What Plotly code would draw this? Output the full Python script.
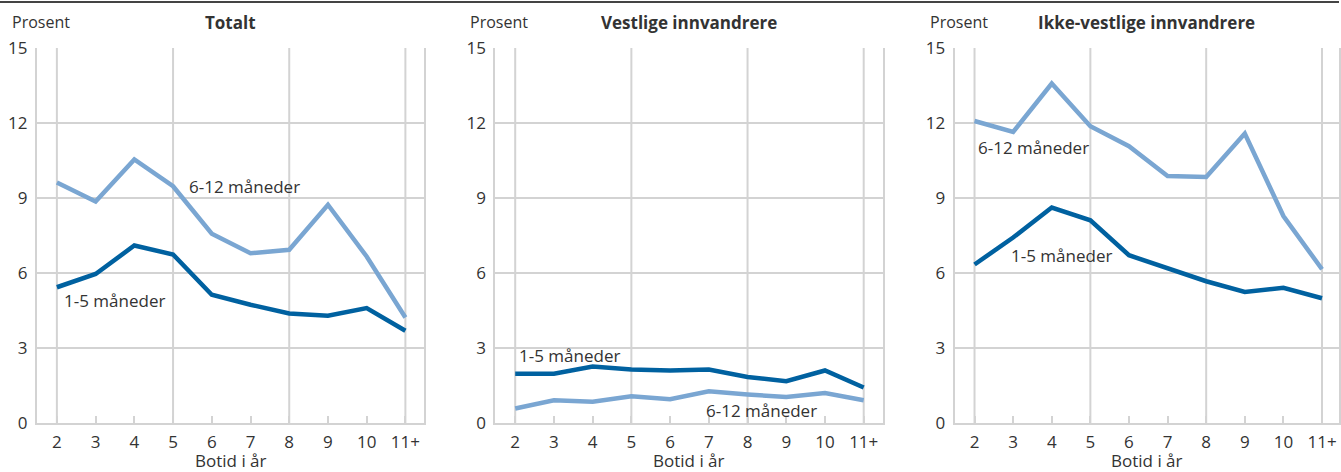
import plotly.graph_objects as go

categories = ["2", "3", "4", "5", "6", "7", "8", "9", "10", "11+"]
panel_titles = ["Totalt", "Vestlige innvandrere", "Ikke-vestlige innvandrere"]
y_ticks = [0, 3, 6, 9, 12, 15]

totalt_1_5 = [5.43, 5.96, 7.10, 6.74, 5.13, 4.73, 4.38, 4.29, 4.60, 3.69]
totalt_6_12 = [9.62, 8.86, 10.54, 9.47, 7.57, 6.79, 6.93, 8.73, 6.66, 4.22]
vestlige_1_5 = [1.97, 1.97, 2.26, 2.14, 2.10, 2.14, 1.84, 1.67, 2.10, 1.42]
vestlige_6_12 = [0.58, 0.91, 0.85, 1.07, 0.95, 1.27, 1.14, 1.04, 1.20, 0.91]
ikke_1_5 = [6.34, 7.42, 8.62, 8.11, 6.71, 6.19, 5.67, 5.24, 5.41, 4.99]
ikke_6_12 = [12.08, 11.64, 13.58, 11.87, 11.07, 9.88, 9.84, 11.58, 8.28, 6.15]

series = [(totalt_1_5, totalt_6_12), (vestlige_1_5, vestlige_6_12), (ikke_1_5, ikke_6_12)]
label_pos = [
    {"1-5 måneder": (0.13, 4.9), "6-12 måneder": (3.35, 9.47)},
    {"1-5 måneder": (0.05, 2.7), "6-12 måneder": (4.87, 0.52)},
    {"1-5 måneder": (0.88, 6.7), "6-12 måneder": (0.03, 11.04)},
]

W, H = 1341, 472
TOP, BOT = 48, 423
domains = [(37, 425), (496, 884), (956, 1341)]
xranges = [(-0.515, 9.49), (-0.515, 9.49), (-0.517, 9.44)]

DARK = "#0061A0"
LIGHT = "#7AA6D2"
GRID = "#D3D3D3"
TEXT = "#333333"
FONT = "Open Sans"
FS = 17

fig = go.Figure()
idx = list(range(len(categories)))

def py(pix):
    return (BOT - pix) / (BOT - TOP)

for i, (s15, s612) in enumerate(series):
    xa = "x" if i == 0 else f"x{i+1}"
    ya = "y" if i == 0 else f"y{i+1}"
    fig.add_trace(go.Scatter(x=idx, y=s612, mode="lines", line=dict(color=LIGHT, width=4.5),
                             xaxis=xa, yaxis=ya, showlegend=False, hoverinfo="skip"))
    fig.add_trace(go.Scatter(x=idx, y=s15, mode="lines", line=dict(color=DARK, width=4.5),
                             xaxis=xa, yaxis=ya, showlegend=False, hoverinfo="skip"))
    d0, d1 = domains[i]
    xkey = "xaxis" if i == 0 else f"xaxis{i+1}"
    ykey = "yaxis" if i == 0 else f"yaxis{i+1}"
    fig.update_layout(**{
        xkey: dict(domain=[d0 / W, d1 / W], range=list(xranges[i]), anchor=ya,
                   tickmode="array", tickvals=idx, ticktext=categories,
                   showgrid=False, zeroline=False, showline=True, linecolor=GRID, linewidth=2,
                   ticks="inside", ticklen=7, tickwidth=2, tickcolor=GRID,
                   ticklabelstandoff=3,
                   tickfont=dict(family=FONT, size=FS, color=TEXT), fixedrange=True),
        ykey: dict(domain=[0, 1], range=[0, 15], anchor=xa,
                   tickmode="array", tickvals=y_ticks,
                   showgrid=True, gridcolor=GRID, gridwidth=2, zeroline=False,
                   showline=True, linecolor=GRID, linewidth=2, mirror=True,
                   ticks="outside", ticklen=4, tickcolor="rgba(0,0,0,0)",
                   tickfont=dict(family=FONT, size=FS, color=TEXT), fixedrange=True),
    })
    for k in [0, 3, 6, 9]:
        fig.add_shape(type="line", xref=xa, yref=f"{ya} domain", x0=k, x1=k, y0=0, y1=1,
                      line=dict(color=GRID, width=2), layer="below")
    for name, (lx, ly) in label_pos[i].items():
        fig.add_annotation(x=lx, y=ly, xref=xa, yref=ya, text=name, showarrow=False,
                           xanchor="left", yanchor="middle",
                           font=dict(family=FONT, size=FS, color=TEXT))
    fig.add_annotation(x=(d0 + d1) / 2 / W, y=py(22), xref="paper", yref="paper",
                       text=f"<b>{panel_titles[i]}</b>", showarrow=False,
                       xanchor="center", yanchor="middle",
                       font=dict(family=FONT, size=FS, color=TEXT))
    fig.add_annotation(x=(d0 - 27) / W, y=py(22), xref="paper", yref="paper",
                       text="Prosent", showarrow=False, xanchor="left", yanchor="middle",
                       font=dict(family=FONT, size=16, color=TEXT))
    fig.add_annotation(x=(d0 + d1) / 2 / W, y=py(460), xref="paper", yref="paper",
                       text="Botid i år", showarrow=False, xanchor="center", yanchor="middle",
                       font=dict(family=FONT, size=FS, color=TEXT))

fig.add_shape(type="line", xref="paper", yref="paper", x0=0, x1=1, y0=py(2), y1=py(2),
              line=dict(color="#444444", width=2))

fig.update_layout(width=W, height=H, margin=dict(l=0, r=0, t=TOP, b=H - BOT),
                  paper_bgcolor="white", plot_bgcolor="white",
                  font=dict(family=FONT, color=TEXT))

fig.write_html("out.html", config={"displayModeBar": False},
               post_script="document.body.style.margin='0';document.body.style.overflow='hidden';")
